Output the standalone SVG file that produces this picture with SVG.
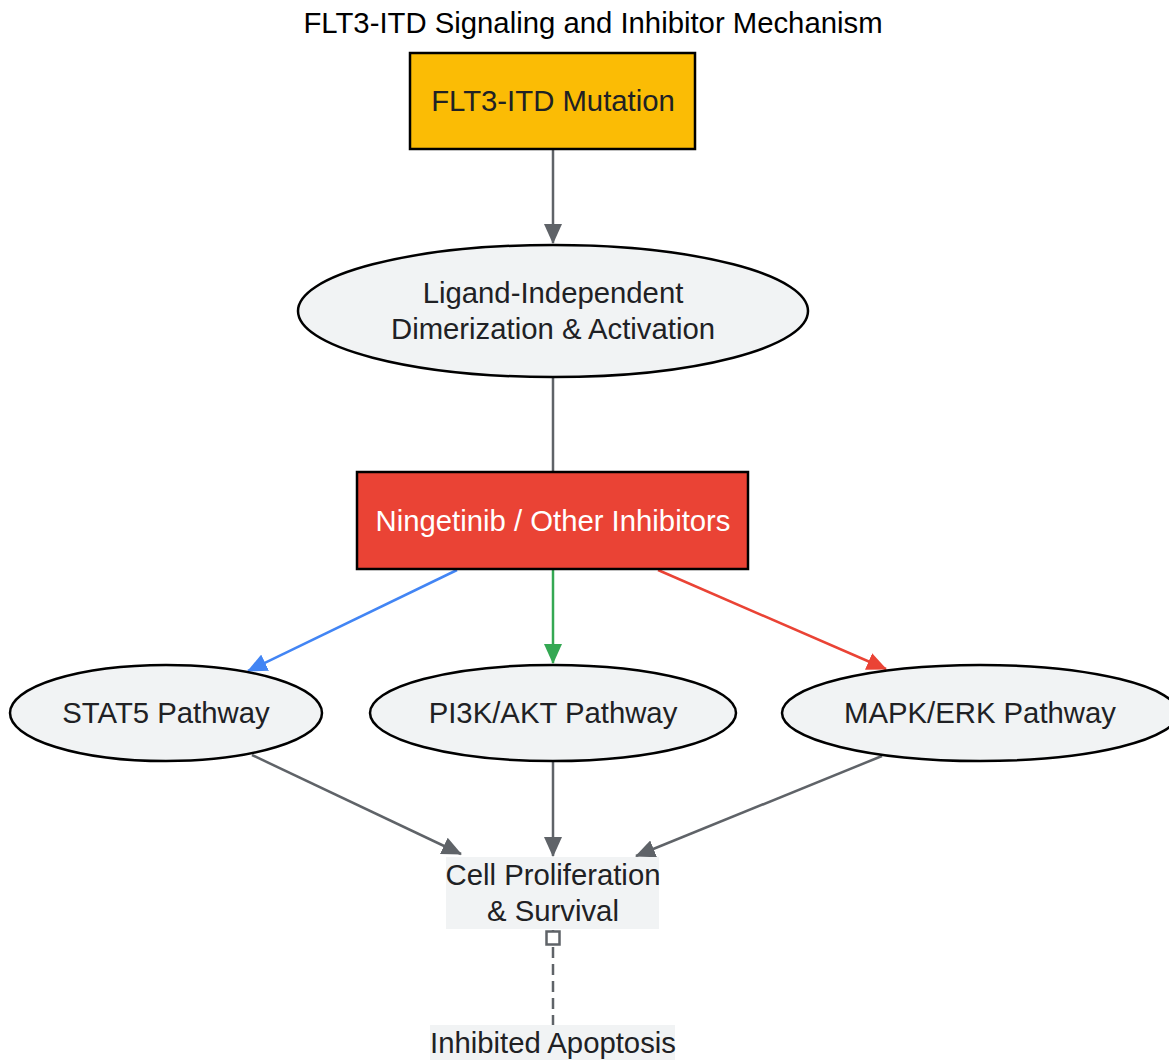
<svg xmlns="http://www.w3.org/2000/svg" width="1169" height="1060" viewBox="0 0 1169 1060">
<style>
text{font-family:"Liberation Sans",Arial,sans-serif;font-size:29.3px;text-anchor:middle;fill:#202124}
.title{fill:#000}
.lbl-w{fill:#fff}
.ell{fill:#F1F3F4;stroke:#000;stroke-width:2.5}
.plain{fill:#F1F3F4;stroke:none}
.e{fill:none;stroke-width:2.5}
.g{stroke:#5f6368}
</style>
<defs>
<marker id="ag" markerUnits="userSpaceOnUse" markerWidth="20" markerHeight="18" refX="19" refY="9" orient="auto" viewBox="0 0 20 18"><path d="M0,0 L20,9 L0,18 z" fill="#5f6368"/></marker>
<marker id="ab" markerUnits="userSpaceOnUse" markerWidth="20" markerHeight="18" refX="19" refY="9" orient="auto" viewBox="0 0 20 18"><path d="M0,0 L20,9 L0,18 z" fill="#4285F4"/></marker>
<marker id="agr" markerUnits="userSpaceOnUse" markerWidth="20" markerHeight="18" refX="19" refY="9" orient="auto" viewBox="0 0 20 18"><path d="M0,0 L20,9 L0,18 z" fill="#34A853"/></marker>
<marker id="ar" markerUnits="userSpaceOnUse" markerWidth="20" markerHeight="18" refX="19" refY="9" orient="auto" viewBox="0 0 20 18"><path d="M0,0 L20,9 L0,18 z" fill="#EA4335"/></marker>
<marker id="sq" markerUnits="userSpaceOnUse" markerWidth="16" markerHeight="16" refX="0" refY="8" orient="auto" viewBox="0 0 16 16"><rect x="1.5" y="1.5" width="13" height="13" fill="#fff" stroke="#5f6368" stroke-width="2.5"/></marker>
</defs>
<text class="title" x="593" y="33">FLT3-ITD Signaling and Inhibitor Mechanism</text>
<g id="connectors">
<path class="e g" d="M553,149 L553,243" marker-end="url(#ag)"/>
<path class="e g" d="M553,377 L553,472"/>
<path class="e" stroke="#4285F4" d="M457,570 L248,671" marker-end="url(#ab)"/>
<path class="e" stroke="#34A853" d="M553,570 L553,663" marker-end="url(#agr)"/>
<path class="e" stroke="#EA4335" d="M658,570 L886,669" marker-end="url(#ar)"/>
<path class="e g" d="M252,755 L461,854" marker-end="url(#ag)"/>
<path class="e g" d="M553,761 L553,856" marker-end="url(#ag)"/>
<path class="e g" d="M882,756 L636,856" marker-end="url(#ag)"/>
<path class="e g" d="M553,930 L553,1026" stroke-dasharray="11,6" marker-start="url(#sq)"/>
</g>
<g id="node-mutation">
<rect x="410" y="53" width="285" height="96" fill="#FBBC05" stroke="#000" stroke-width="2.5"/>
<text x="553" y="111">FLT3-ITD Mutation</text>
</g>
<g id="node-dimerization">
<ellipse class="ell" cx="553" cy="311" rx="255" ry="66"/>
<text x="553" y="303">Ligand-Independent</text>
<text x="553" y="339">Dimerization &amp; Activation</text>
</g>
<g id="node-inhibitors">
<rect x="357" y="472" width="391" height="97" fill="#EA4335" stroke="#000" stroke-width="2.5"/>
<text class="lbl-w" x="553" y="531">Ningetinib / Other Inhibitors</text>
</g>
<g id="node-stat5">
<ellipse class="ell" cx="166" cy="713" rx="156" ry="48"/>
<text x="166" y="723">STAT5 Pathway</text>
</g>
<g id="node-pi3k">
<ellipse class="ell" cx="553" cy="713" rx="183" ry="48"/>
<text x="553" y="723">PI3K/AKT Pathway</text>
</g>
<g id="node-mapk">
<ellipse class="ell" cx="980" cy="713" rx="198" ry="48"/>
<text x="980" y="723">MAPK/ERK Pathway</text>
</g>
<g id="node-proliferation">
<rect class="plain" x="446" y="857" width="213" height="72"/>
<text x="553" y="885">Cell Proliferation</text>
<text x="553" y="921">&amp; Survival</text>
</g>
<g id="node-apoptosis">
<rect class="plain" x="430" y="1025" width="245" height="40"/>
<text x="553" y="1053">Inhibited Apoptosis</text>
</g>
</svg>
